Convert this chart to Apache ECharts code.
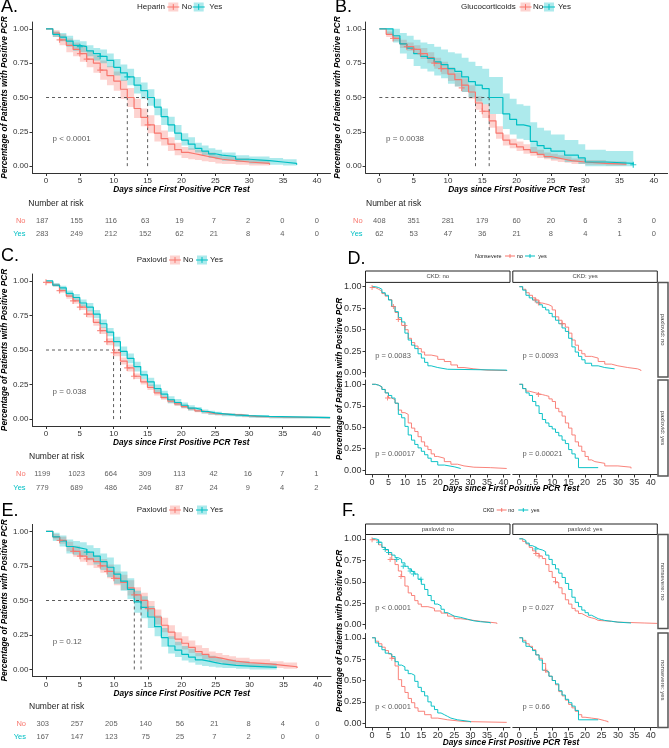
<!DOCTYPE html>
<html><head><meta charset="utf-8">
<script src="https://cdn.jsdelivr.net/npm/echarts@6/dist/echarts.min.js"></script>
<style>html,body{margin:0;padding:0;background:#fff}#c{width:669px;height:748px}</style>
</head><body><div id="c"></div>
<script>
// ---------------- DATA ----------------
const dayTicks = [0,5,10,15,20,25,30,35,40];
const survTicks = [0,0.25,0.5,0.75,1];
const riskDays = [0,5,10,15,20,25,30,35,40];
const riskRows = ['No','Yes'];

// Panel A (Heparin)
const tA_no  = [0,1,2,3,4,5,6,7,8,9,10,11,12,13,14,15,16,17,18,19,20,21,22,23,24,25,26,28,30,33];
const sA_no  = [1,0.97,0.92,0.88,0.85,0.82,0.78,0.75,0.70,0.66,0.62,0.56,0.50,0.42,0.355,0.30,0.24,0.20,0.16,0.12,0.10,0.09,0.08,0.07,0.06,0.05,0.04,0.03,0.02,0.01];
const loA_no = [1,0.94,0.88,0.83,0.80,0.76,0.72,0.68,0.63,0.59,0.55,0.49,0.43,0.35,0.29,0.24,0.18,0.15,0.11,0.08,0.06,0.05,0.045,0.035,0.03,0.02,0.015,0.01,0.005,0];
const hiA_no = [1,0.99,0.96,0.93,0.90,0.88,0.84,0.81,0.77,0.73,0.69,0.63,0.57,0.49,0.42,0.37,0.30,0.26,0.21,0.17,0.14,0.13,0.12,0.11,0.10,0.08,0.07,0.06,0.045,0.03];
const tA_yes  = [0,1,2,3,4,5,6,7,8,9,10,11,12,13,14,15,16,17,18,19,20,21,22,23,24,25,26,28,30,33,35,37];
const sA_yes  = [1,0.96,0.94,0.91,0.88,0.87,0.84,0.82,0.80,0.77,0.72,0.68,0.65,0.59,0.55,0.50,0.43,0.36,0.30,0.24,0.19,0.16,0.13,0.11,0.09,0.08,0.07,0.05,0.04,0.03,0.02,0.01];
const loA_yes = [1,0.94,0.91,0.87,0.84,0.83,0.80,0.77,0.75,0.72,0.66,0.62,0.59,0.53,0.49,0.44,0.37,0.30,0.25,0.19,0.15,0.12,0.10,0.08,0.06,0.05,0.04,0.03,0.02,0.01,0.005,0];
const hiA_yes = [1,0.98,0.97,0.95,0.92,0.91,0.88,0.86,0.85,0.82,0.78,0.74,0.71,0.65,0.61,0.56,0.49,0.42,0.36,0.30,0.24,0.21,0.17,0.15,0.13,0.12,0.10,0.08,0.07,0.06,0.05,0.04];
const censA_no  = [[2,0.92],[5,0.82],[6,0.78],[8,0.70],[15,0.30]];
const censA_yes = [[5,0.87],[8,0.80],[12,0.65]];
const medA = [12,15];
const riskA_no  = [187,155,116,63,19,7,2,0,0];
const riskA_yes = [283,249,212,152,62,21,8,4,0];

// Panel B (Glucocorticoids)
const tB_no  = [0,1,2,3,4,5,6,7,8,9,10,11,12,13,14,15,16,17,18,19,20,21,22,23,24,25,26,27,28,30,33,36];
const sB_no  = [1,0.96,0.93,0.89,0.87,0.85,0.82,0.79,0.75,0.71,0.67,0.63,0.59,0.54,0.46,0.40,0.33,0.24,0.19,0.16,0.14,0.12,0.10,0.085,0.07,0.06,0.05,0.04,0.03,0.02,0.015,0.01];
const loB_no = [1,0.94,0.91,0.86,0.84,0.82,0.78,0.75,0.71,0.67,0.62,0.58,0.54,0.49,0.41,0.35,0.28,0.20,0.15,0.13,0.11,0.09,0.075,0.06,0.05,0.04,0.03,0.025,0.015,0.01,0.005,0];
const hiB_no = [1,0.98,0.95,0.92,0.90,0.88,0.86,0.83,0.79,0.76,0.72,0.68,0.64,0.59,0.51,0.45,0.38,0.29,0.23,0.20,0.18,0.16,0.14,0.12,0.10,0.09,0.08,0.07,0.055,0.045,0.035,0.03];
const tB_yes  = [0,1,2,3,4,5,6,7,8,9,10,11,12,13,14,15,16,18,19,20,21,22,23,24,25,27,29,30,33,37];
const sB_yes  = [1,1,0.95,0.89,0.86,0.82,0.80,0.785,0.76,0.74,0.71,0.69,0.65,0.615,0.59,0.565,0.50,0.38,0.34,0.30,0.29,0.18,0.15,0.13,0.11,0.08,0.06,0.03,0.02,0.01];
const loB_yes = [1,0.96,0.90,0.82,0.78,0.73,0.71,0.69,0.66,0.64,0.60,0.58,0.54,0.50,0.47,0.45,0.38,0.27,0.23,0.20,0.19,0.10,0.08,0.06,0.05,0.03,0.015,0,0,0];
const hiB_yes = [1,1,1,0.97,0.95,0.92,0.90,0.89,0.87,0.85,0.83,0.82,0.79,0.76,0.73,0.71,0.65,0.53,0.49,0.45,0.44,0.32,0.28,0.26,0.23,0.19,0.16,0.12,0.11,0.11];
const censB_no  = [[2,0.93],[4,0.87],[5,0.85],[6,0.82],[8,0.75],[9,0.71],[12,0.57],[15,0.40]];
const censB_yes = [[37,0.01]];
const medB = [14,16];
const riskB_no  = [408,351,281,179,60,20,6,3,0];
const riskB_yes = [62,53,47,36,21,8,4,1,0];

// Panel C (Paxlovid)
const tC_no  = [0,1,2,3,4,5,6,7,8,9,10,11,12,13,14,15,16,17,18,19,20,21,22,23,24,25,27,29,31,35,42];
const sC_no  = [0.99,0.97,0.93,0.89,0.855,0.81,0.76,0.70,0.64,0.56,0.48,0.42,0.37,0.31,0.27,0.23,0.19,0.155,0.13,0.11,0.09,0.075,0.06,0.05,0.04,0.035,0.03,0.02,0.015,0.01,0.005];
const loC_no = [0.98,0.96,0.915,0.87,0.835,0.79,0.735,0.675,0.615,0.535,0.455,0.395,0.345,0.29,0.25,0.21,0.17,0.14,0.115,0.095,0.077,0.063,0.05,0.04,0.032,0.027,0.022,0.014,0.01,0.006,0.002];
const hiC_no = [1,0.98,0.945,0.91,0.875,0.83,0.785,0.725,0.665,0.585,0.505,0.445,0.395,0.33,0.29,0.25,0.21,0.17,0.145,0.125,0.103,0.087,0.07,0.06,0.048,0.043,0.038,0.026,0.02,0.014,0.008];
const tC_yes  = [0,1,2,3,4,5,6,7,8,9,10,11,12,13,14,15,16,17,18,19,20,21,22,23,24,25,26,28,30,33,42];
const sC_yes  = [1,0.97,0.95,0.91,0.88,0.84,0.81,0.76,0.69,0.63,0.56,0.49,0.44,0.38,0.32,0.27,0.22,0.18,0.14,0.12,0.10,0.08,0.07,0.055,0.045,0.04,0.03,0.025,0.02,0.01,0.005];
const loC_yes = [1,0.96,0.935,0.89,0.855,0.815,0.78,0.73,0.66,0.60,0.525,0.455,0.405,0.345,0.29,0.24,0.19,0.155,0.115,0.10,0.08,0.062,0.053,0.04,0.032,0.027,0.02,0.015,0.01,0.004,0.001];
const hiC_yes = [1,0.985,0.965,0.93,0.905,0.865,0.84,0.79,0.72,0.66,0.595,0.525,0.475,0.415,0.35,0.30,0.25,0.205,0.165,0.145,0.12,0.10,0.088,0.07,0.06,0.054,0.042,0.036,0.03,0.018,0.01];
const censC_no  = [[0,0.99],[2,0.93],[4,0.855],[5,0.81],[6,0.76],[8,0.64],[9,0.56],[10,0.48],[12,0.37],[13,0.31]];
const censC_yes = [];
const medC = [10,11];
const riskC_no  = [1199,1023,664,309,113,42,16,7,1];
const riskC_yes = [779,689,486,246,87,24,9,4,2];

// Panel E (Paxlovid)
const tE_no  = [0,1,2,3,4,5,6,7,8,9,10,11,12,13,14,15,16,17,18,19,20,21,22,23,24,25,26,27,28,30,33,35,37];
const sE_no  = [1,0.96,0.935,0.89,0.855,0.82,0.80,0.78,0.75,0.71,0.66,0.63,0.59,0.54,0.50,0.44,0.38,0.32,0.27,0.22,0.19,0.16,0.13,0.11,0.09,0.08,0.07,0.06,0.05,0.04,0.03,0.02,0.01];
const loE_no = [1,0.94,0.91,0.855,0.815,0.78,0.755,0.735,0.70,0.66,0.61,0.575,0.535,0.485,0.445,0.385,0.325,0.27,0.22,0.175,0.145,0.12,0.095,0.075,0.06,0.05,0.04,0.032,0.025,0.017,0.01,0.005,0];
const hiE_no = [1,0.98,0.96,0.925,0.895,0.865,0.845,0.825,0.80,0.76,0.71,0.685,0.645,0.595,0.555,0.495,0.435,0.375,0.32,0.27,0.24,0.21,0.175,0.155,0.13,0.12,0.105,0.095,0.085,0.075,0.06,0.05,0.04];
const tE_yes  = [0,1,2,3,4,5,6,7,8,9,10,11,12,13,14,15,16,17,18,19,20,21,22,23,24,25,26,28,30,34];
const sE_yes  = [1,0.96,0.93,0.89,0.88,0.87,0.85,0.82,0.78,0.74,0.69,0.64,0.58,0.49,0.45,0.38,0.31,0.23,0.17,0.14,0.11,0.09,0.07,0.06,0.05,0.04,0.03,0.025,0.015,0.01];
const loE_yes = [1,0.93,0.89,0.84,0.83,0.82,0.79,0.76,0.72,0.67,0.62,0.57,0.51,0.41,0.37,0.30,0.24,0.165,0.115,0.09,0.065,0.05,0.035,0.025,0.02,0.015,0.01,0.005,0,0];
const hiE_yes = [1,0.99,0.97,0.94,0.93,0.92,0.90,0.88,0.84,0.81,0.76,0.71,0.66,0.57,0.53,0.46,0.39,0.30,0.24,0.20,0.17,0.15,0.12,0.11,0.10,0.085,0.07,0.06,0.045,0.035];
const censE_no  = [[2,0.935],[4,0.855],[5,0.82],[6,0.80],[8,0.75],[9,0.71],[10,0.66],[13,0.54],[15,0.44]];
const censE_yes = [[6,0.85]];
const medE = [13,14];
const riskE_no  = [303,257,205,140,56,21,8,4,0];
const riskE_yes = [167,147,123,75,25,7,2,0,0];

// Panel D facets (Nonsevere no / yes), [CKD col][paxlovid row]
const tD00_no = [0,1,2,3,4,5,6,7,8,9,10,11,12,13,14,15,16,18,20,22,24,26,28,31,35,41];
const sD00_no = [0.99,0.97,0.95,0.92,0.89,0.85,0.77,0.70,0.62,0.55,0.50,0.40,0.35,0.31,0.28,0.24,0.205,0.19,0.155,0.13,0.09,0.06,0.045,0.03,0.025,0.02];
const tD00_yes = [0,1,2,3,4,5,6,7,8,9,10,11,12,13,14,15,16,17,18,20,23,41];
const sD00_yes = [1,0.99,0.97,0.93,0.90,0.845,0.77,0.71,0.64,0.59,0.46,0.38,0.32,0.28,0.22,0.17,0.12,0.08,0.06,0.04,0.03,0.02];
const tD01_no = [0,1,2,3,4,5,6,7,8,9,10,11,12,13,14,15,16,17,18,19,20,22,24,26,28,30,33,36,37];
const sD01_no = [1,0.97,0.93,0.90,0.87,0.845,0.81,0.80,0.79,0.77,0.73,0.65,0.61,0.57,0.53,0.46,0.38,0.32,0.26,0.22,0.19,0.17,0.13,0.10,0.08,0.06,0.045,0.03,0.02];
const tD01_yes = [0,1,2,3,4,5,6,7,8,9,10,11,12,13,14,15,16,17,18,19,20,22,24,26,29];
const sD01_yes = [1,0.96,0.90,0.87,0.845,0.82,0.79,0.76,0.73,0.69,0.65,0.61,0.57,0.52,0.48,0.40,0.30,0.24,0.19,0.15,0.11,0.08,0.06,0.045,0.04];
const tD10_no = [0,1,2,3,4,5,6,7,8,9,10,11,12,13,14,15,16,17,18,19,20,22,24,26,28,31,36,41];
const sD10_no = [1,0.99,0.97,0.94,0.90,0.84,0.82,0.78,0.70,0.67,0.65,0.55,0.49,0.45,0.39,0.33,0.28,0.24,0.19,0.16,0.14,0.10,0.07,0.05,0.035,0.03,0.02,0.015];
const tD10_yes = [0,1,2,3,4,5,6,7,8,9,10,11,12,13,14,15,16,17,18,20,22,25,27];
const sD10_yes = [1,0.99,0.97,0.94,0.90,0.87,0.84,0.78,0.65,0.61,0.51,0.41,0.35,0.30,0.26,0.22,0.18,0.14,0.10,0.06,0.04,0.02,0.02];
const tD11_no = [0,1,2,3,5,6,7,8,9,10,11,12,13,14,15,16,17,18,19,20,21,22,23,26,30,34];
const sD11_no = [1,0.95,0.92,0.90,0.89,0.88,0.87,0.86,0.83,0.80,0.72,0.68,0.63,0.55,0.49,0.41,0.33,0.28,0.22,0.16,0.12,0.10,0.08,0.05,0.035,0.02];
const tD11_yes = [0,1,2,3,4,5,6,7,8,9,10,11,12,13,14,15,16,17,18,24];
const sD11_yes = [1,0.95,0.90,0.87,0.80,0.75,0.66,0.59,0.55,0.51,0.48,0.44,0.40,0.35,0.31,0.24,0.19,0.14,0.03,0.03];
const censD = [[[0,0.99],[6.5,0.77],[8,0.62],[10,0.55]], [[4.8,0.845],[5.8,0.81],[13,0.57]], [[4.7,0.84]], [[5.8,0.88]]];
const pD = ['p = 0.0083','p = 0.0093','p = 0.00017','p = 0.00021'];

// Panel F facets (CKD no / yes), [paxlovid col][nonsevere row]
const tF00_no = [0,1,2,3,4,5,6,7,8,9,10,11,12,13,14,15,17,19,21,23,25,27,29,33,38];
const sF00_no = [0.99,0.97,0.93,0.90,0.87,0.82,0.76,0.70,0.625,0.56,0.45,0.37,0.34,0.28,0.24,0.21,0.19,0.16,0.135,0.10,0.07,0.06,0.04,0.02,0.01];
const tF00_yes = [0,1,2,3,4,5,6,7,8,9,10,11,12,13,14,15,16,17,18,19,20,21,22,23,24,25,27,29,31,33,36];
const sF00_yes = [1,0.99,0.96,0.90,0.875,0.84,0.81,0.78,0.76,0.72,0.68,0.65,0.62,0.59,0.53,0.47,0.41,0.34,0.28,0.24,0.22,0.18,0.14,0.12,0.10,0.085,0.065,0.045,0.035,0.025,0.015];
const tF01_no = [0,1,2,3,4,5,6,7,8,9,10,11,12,13,14,15,16,17,18,19,20,21,22,23,24,26,28,30,34,38,42];
const sF01_no = [1,0.97,0.94,0.90,0.86,0.83,0.80,0.77,0.70,0.62,0.55,0.49,0.43,0.36,0.29,0.24,0.19,0.16,0.13,0.11,0.09,0.08,0.07,0.05,0.045,0.04,0.03,0.025,0.02,0.015,0.01];
const tF01_yes = [0,1,2,3,4,5,6,7,8,9,10,11,12,13,14,15,16,17,18,19,20,21,22,23,24,25,26,28,30,34];
const sF01_yes = [1,0.98,0.95,0.92,0.90,0.88,0.87,0.85,0.81,0.76,0.70,0.65,0.60,0.55,0.48,0.41,0.32,0.26,0.21,0.17,0.14,0.11,0.09,0.07,0.06,0.05,0.04,0.03,0.02,0.015];
const tF10_no = [0,1,2,3,4,5,6,7,8,9,10,11,12,13,14,16,18,20,23,28,41];
const sF10_no = [1,0.96,0.93,0.89,0.85,0.81,0.76,0.67,0.51,0.43,0.36,0.29,0.24,0.18,0.14,0.10,0.06,0.04,0.02,0.01,0.01];
const tF10_yes = [0,1,2,3,4,5,6,7,8,9,10,11,12,13,14,15,16,17,18,19,20,21,22,23,24,25,26,28,30];
const sF10_yes = [1,0.94,0.90,0.86,0.82,0.81,0.78,0.72,0.68,0.66,0.62,0.58,0.56,0.49,0.42,0.37,0.32,0.25,0.20,0.16,0.12,0.10,0.08,0.06,0.05,0.04,0.03,0.02,0.01];
const tF11_no = [0,1,2,3,4,5,6,7,8,9,10,11,12,13,14,15,16,17,18,19,20,22,24,26,27];
const sF11_no = [1,0.97,0.93,0.90,0.86,0.80,0.76,0.70,0.60,0.55,0.50,0.45,0.37,0.32,0.27,0.22,0.18,0.14,0.10,0.07,0.06,0.05,0.03,0.02,0.01];
const tF11_yes = [0,1,2,3,4,5,6,7,8,9,10,11,12,13,14,15,16,17,18,24];
const sF11_yes = [1,0.95,0.90,0.88,0.85,0.80,0.74,0.62,0.60,0.55,0.50,0.46,0.38,0.33,0.28,0.24,0.20,0.15,0.04,0.04];
const censF_no  = [[[0,0.99],[5.5,0.76],[8.8,0.56]], [[5,0.83],[6,0.80],[11,0.50]], [[6,0.76]], [[8,0.62]]];
const censF_yes = [[[2,0.96],[4,0.875],[5,0.84],[7.5,0.76],[9.5,0.68],[11.6,0.625],[12.6,0.59],[14.9,0.53]], [[5,0.88]], [], []];
const pF = ['p < 0.0001','p = 0.027','p < 0.0001','p = 0.66'];

// ---------------- BUILD ----------------
const FONT = "'Liberation Sans', Arial, Helvetica, sans-serif";
const RED = '#F8766D', TEAL = '#00BFC4';
const RED_FILL = 'rgba(248,118,109,0.32)', TEAL_FILL = 'rgba(0,191,196,0.32)';
const AX = '#333', TXT = '#333';
const XT = 'Days since First Positive PCR Test';
const YT = 'Percentage of Patients with Positive PCR';
const PLUS = 'path://M4,0H6V4H10V6H6V10H4V6H0V4H4Z';

const grid = [], xAxis = [], yAxis = [], series = [], graphic = [];
const zip = (t, s) => t.map((v, i) => [v, s[i]]);

function axisPair(rect, o) {
  const gi = grid.length;
  grid.push(Object.assign({}, rect));
  xAxis.push({
    type: 'value', gridIndex: gi, min: -2, max: 42,
    axisLine: { show: o.showX, onZero: false, lineStyle: { color: AX, width: 1 } },
    axisTick: { show: o.showX, customValues: dayTicks, length: 3, lineStyle: { color: AX, width: 1 } },
    axisLabel: { show: o.showX, customValues: dayTicks, color: TXT, fontSize: o.fs, margin: 4, fontFamily: FONT },
    splitLine: { show: false },
    name: o.xName || '', nameLocation: 'middle', nameGap: 12,
    nameTextStyle: { fontFamily: FONT, fontSize: 8.3, fontWeight: 'bold', fontStyle: 'italic', color: '#000' }
  });
  yAxis.push({
    type: 'value', gridIndex: gi, min: -0.05, max: 1.05,
    axisLine: { show: o.showY, onZero: false, lineStyle: { color: AX, width: 1 } },
    axisTick: { show: o.showY, customValues: survTicks, length: 3, lineStyle: { color: AX, width: 1 } },
    axisLabel: { show: o.showY, customValues: survTicks, formatter: v => v.toFixed(2), color: TXT, fontSize: o.fs, margin: 4, fontFamily: FONT },
    splitLine: { show: false },
    name: o.yName || '', nameLocation: 'middle', nameGap: 20,
    nameTextStyle: { fontFamily: FONT, fontSize: 8.3, fontWeight: 'bold', fontStyle: 'italic', color: '#000' }
  });
  return gi;
}

function band(gi, t, lo, hi, fill) {
  series.push({
    type: 'custom', xAxisIndex: gi, yAxisIndex: gi, clip: true, silent: true, z: 1,
    data: t.map((v, i) => [v, lo[i], hi[i]]), encode: { x: 0, y: [1, 2] },
    renderItem: (params, api) => {
      if (params.dataIndex !== 0) return null;
      const up = [], dn = [];
      for (let i = 0; i < t.length; i++) {
        const xn = i < t.length - 1 ? t[i + 1] : t[i];
        up.push(api.coord([t[i], hi[i]]), api.coord([xn, hi[i]]));
        dn.push(api.coord([t[i], lo[i]]), api.coord([xn, lo[i]]));
      }
      return { type: 'polygon', shape: { points: up.concat(dn.reverse()) }, style: { fill } };
    }
  });
}
function curve(gi, t, s, color, width, op) {
  series.push({ type: 'line', xAxisIndex: gi, yAxisIndex: gi, data: zip(t, s), step: 'end', symbol: 'none',
    lineStyle: { color, width, opacity: op }, itemStyle: { color }, silent: true, z: 3 });
}
function cens(gi, pts, color, size) {
  if (!pts.length) return;
  series.push({ type: 'scatter', xAxisIndex: gi, yAxisIndex: gi, data: pts, symbol: PLUS, symbolSize: size,
    itemStyle: { color }, silent: true, z: 4 });
}
function pText(gi, text, pos, fs) {
  series.push({ type: 'scatter', xAxisIndex: gi, yAxisIndex: gi, data: [pos], symbolSize: 1,
    itemStyle: { color: 'rgba(0,0,0,0)' }, silent: true, z: 5,
    label: { show: true, position: 'right', distance: 0, formatter: text, fontFamily: FONT, fontSize: fs, color: TXT } });
}

function addMain(rect, curves, meds, p) {
  const gi = axisPair(rect, { showX: true, showY: true, fs: 8, xName: XT, yName: YT });
  curves.forEach(c => band(gi, c.t, c.lo, c.hi, c.fill));
  const dash = { color: '#333', width: 0.8, type: [3, 3] };
  const mMax = Math.max.apply(null, meds);
  series.push({ type: 'line', xAxisIndex: gi, yAxisIndex: gi, data: [[0, 0.5], [mMax, 0.5]], symbol: 'none', lineStyle: dash, silent: true, z: 2 });
  meds.forEach(m => series.push({ type: 'line', xAxisIndex: gi, yAxisIndex: gi, data: [[m, 0], [m, 0.5]], symbol: 'none', lineStyle: dash, silent: true, z: 2 }));
  curves.forEach(c => { curve(gi, c.t, c.s, c.color, 1.2, 1); cens(gi, c.cens, c.color, 6); });
  pText(gi, p, [0.9, 0.2], 8);
}

function addRisk(rect, rNo, rYes) {
  const gi = grid.length;
  grid.push(Object.assign({}, rect));
  xAxis.push({ type: 'value', gridIndex: gi, min: -2, max: 42, show: false });
  yAxis.push({ type: 'category', gridIndex: gi, data: riskRows, inverse: true,
    axisLine: { show: false }, axisTick: { show: false }, splitLine: { show: false },
    axisLabel: { fontFamily: FONT, fontSize: 7.5, margin: 3, color: v => (v === 'No' ? RED : TEAL) } });
  const data = riskDays.map((d, i) => [d, 'No', rNo[i]]).concat(riskDays.map((d, i) => [d, 'Yes', rYes[i]]));
  series.push({ type: 'scatter', xAxisIndex: gi, yAxisIndex: gi, data, symbolSize: 1,
    itemStyle: { color: 'rgba(0,0,0,0)' }, silent: true,
    label: { show: true, position: 'inside', formatter: p => String(p.value[2]), fontFamily: FONT, fontSize: 7.5, color: '#333' } });
}

function addFacet(rect, showX, showY, tNo, sNo, tYes, sYes, cNo, cYes, p) {
  const gi = axisPair(rect, { showX, showY, fs: 9 });
  curve(gi, tNo, sNo, RED, 1, 0.9);
  curve(gi, tYes, sYes, TEAL, 1, 0.95);
  cens(gi, cNo, RED, 5);
  cens(gi, cYes, TEAL, 5);
  pText(gi, p, [0.8, 0.19], 7.5);
}

// main panels
addMain({ left: 28.5, top: 22, width: 302, height: 151 }, [
  { t: tA_no, s: sA_no, lo: loA_no, hi: hiA_no, color: RED, fill: RED_FILL, cens: censA_no },
  { t: tA_yes, s: sA_yes, lo: loA_yes, hi: hiA_yes, color: TEAL, fill: TEAL_FILL, cens: censA_yes }], medA, 'p < 0.0001');
addMain({ left: 365.6, top: 22, width: 302, height: 151 }, [
  { t: tB_no, s: sB_no, lo: loB_no, hi: hiB_no, color: RED, fill: RED_FILL, cens: censB_no },
  { t: tB_yes, s: sB_yes, lo: loB_yes, hi: hiB_yes, color: TEAL, fill: TEAL_FILL, cens: censB_yes }], medB, 'p = 0.0038');
addMain({ left: 28.6, top: 274, width: 301.5, height: 152 }, [
  { t: tC_no, s: sC_no, lo: loC_no, hi: hiC_no, color: RED, fill: RED_FILL, cens: censC_no },
  { t: tC_yes, s: sC_yes, lo: loC_yes, hi: hiC_yes, color: TEAL, fill: TEAL_FILL, cens: censC_yes }], medC, 'p = 0.038');
addMain({ left: 29, top: 524.4, width: 302, height: 152 }, [
  { t: tE_no, s: sE_no, lo: loE_no, hi: hiE_no, color: RED, fill: RED_FILL, cens: censE_no },
  { t: tE_yes, s: sE_yes, lo: loE_yes, hi: hiE_yes, color: TEAL, fill: TEAL_FILL, cens: censE_yes }], medE, 'p = 0.12');

addRisk({ left: 28.5, top: 214.5, width: 302, height: 26 }, riskA_no, riskA_yes);
addRisk({ left: 365.6, top: 214.5, width: 302, height: 26 }, riskB_no, riskB_yes);
addRisk({ left: 28.6, top: 467.2, width: 301.5, height: 27.4 }, riskC_no, riskC_yes);
addRisk({ left: 29, top: 717.5, width: 302, height: 26 }, riskE_no, riskE_yes);

// facets D
const colL = 365.5, colR = 512.8, fw = 144.5;
addFacet({ left: colL, top: 282.4, width: fw, height: 94.6 }, false, true, tD00_no, sD00_no, tD00_yes, sD00_yes, censD[0], [], pD[0]);
addFacet({ left: colR, top: 282.4, width: fw, height: 94.6 }, false, false, tD01_no, sD01_no, tD01_yes, sD01_yes, censD[1], [], pD[1]);
addFacet({ left: colL, top: 380, width: fw, height: 94.5 }, true, true, tD10_no, sD10_no, tD10_yes, sD10_yes, censD[2], [], pD[2]);
addFacet({ left: colR, top: 380, width: fw, height: 94.5 }, true, false, tD11_no, sD11_no, tD11_yes, sD11_yes, censD[3], [], pD[3]);
// facets F
addFacet({ left: colL, top: 534.5, width: fw, height: 94.5 }, false, true, tF00_no, sF00_no, tF00_yes, sF00_yes, censF_no[0], censF_yes[0], pF[0]);
addFacet({ left: colR, top: 534.5, width: fw, height: 94.5 }, false, false, tF01_no, sF01_no, tF01_yes, sF01_yes, censF_no[1], censF_yes[1], pF[1]);
addFacet({ left: colL, top: 633.5, width: fw, height: 94 }, true, true, tF10_no, sF10_no, tF10_yes, sF10_yes, censF_no[2], censF_yes[2], pF[2]);
addFacet({ left: colR, top: 633.5, width: fw, height: 94 }, true, false, tF11_no, sF11_no, tF11_yes, sF11_yes, censF_no[3], censF_yes[3], pF[3]);

// ---------------- GRAPHIC TEXT / LEGENDS / STRIPS ----------------
const T = (text, x, y, o = {}) => ({ type: 'text', x, y, rotation: o.rot || 0, silent: true, z: 100,
  style: { text, fontFamily: FONT, fontSize: o.size || 8, fontWeight: o.weight || 'normal', fontStyle: o.fstyle || 'normal',
    fill: o.color || '#222', align: o.align || 'left', verticalAlign: o.va || 'middle' } });
function key(cx, cy, color, fill, w, h) {
  const els = [];
  if (fill) els.push({ type: 'rect', shape: { x: cx - w / 2, y: cy - h / 2, width: w, height: h }, style: { fill }, silent: true, z: 100 });
  els.push({ type: 'line', shape: { x1: cx - w / 2 - 1, y1: cy, x2: cx + w / 2 + 1, y2: cy }, style: { stroke: color, lineWidth: 1 }, silent: true, z: 101 });
  els.push({ type: 'line', shape: { x1: cx, y1: cy - h * 0.32, x2: cx, y2: cy + h * 0.32 }, style: { stroke: color, lineWidth: 1 }, silent: true, z: 101 });
  return els;
}
function legend(title, tx, y, k1, l1, k2, l2, labels, fs, fill, kw, kh) {
  graphic.push(T(title, tx, y, { size: fs, color: '#222' }));
  key(k1, y, RED, fill ? RED_FILL : null, kw, kh).forEach(e => graphic.push(e));
  key(k2, y, TEAL, fill ? TEAL_FILL : null, kw, kh).forEach(e => graphic.push(e));
  graphic.push(T(labels[0], l1, y, { size: fs, color: '#222' }));
  graphic.push(T(labels[1], l2, y, { size: fs, color: '#222' }));
}
legend('Heparin', 137, 7, 173.3, 181.7, 198.7, 209.3, ['No', 'Yes'], 8, true, 10, 9);
legend('Glucocorticoids', 461, 7, 525.5, 533, 549, 558, ['No', 'Yes'], 8, true, 10, 9);
legend('Paxlovid', 136.7, 260, 175, 183, 202, 210, ['No', 'Yes'], 8, true, 10, 9);
legend('Paxlovid', 136.7, 510, 175, 183, 202, 210, ['No', 'Yes'], 8, true, 10, 9);
legend('Nonsevere', 475, 256, 510, 516.7, 530, 538.3, ['no', 'yes'], 5.5, false, 8, 6);
legend('CKD', 482.7, 510, 501.7, 508.3, 523.3, 531, ['no', 'yes'], 5.5, false, 8, 6);

// panel letters
[['A.', 1, 7], ['B.', 335, 7], ['C.', 1, 256.5], ['D.', 347.5, 259.5], ['E.', 1.5, 511], ['F.', 342, 511]]
  .forEach(l => graphic.push(T(l[0], l[1], l[2], { size: 18, color: '#000' })));

// number at risk titles
[[28.3, 204], [366, 204], [29, 457], [29, 707]].forEach(p => graphic.push(T('Number at risk', p[0], p[1], { size: 8.5, color: '#222' })));

// facet strips
function strip(x, y, w, h, text, vertical) {
  graphic.push({ type: 'rect', shape: { x, y, width: w, height: h }, style: { fill: '#fff', stroke: vertical ? '#555' : '#222', lineWidth: vertical ? 1.5 : 1 }, silent: true, z: 90 });
  graphic.push(T(text, x + w / 2, y + h / 2, { size: 6, color: '#444', align: 'center', rot: vertical ? -Math.PI / 2 : 0 }));
}
strip(colL, 271, fw, 11.4, 'CKD: no', false);
strip(colR, 271, fw, 11.4, 'CKD: yes', false);
strip(658, 282.4, 10, 94.6, 'paxlovid: no', true);
strip(658, 380, 10, 96, 'paxlovid: yes', true);
strip(colL, 524, fw, 10.5, 'paxlovid: no', false);
strip(colR, 524, fw, 10.5, 'paxlovid: yes', false);
strip(658, 534.5, 10, 94, 'nonsevere: no', true);
strip(658, 633, 10, 94.5, 'nonsevere: yes', true);

// facet axis titles
const tStyle = { size: 8.3, weight: 'bold', fstyle: 'italic', color: '#000', align: 'center' };
graphic.push(T(YT, 340, 379, Object.assign({ rot: Math.PI / 2 }, tStyle)));
graphic.push(T(YT, 340, 631, Object.assign({ rot: Math.PI / 2 }, tStyle)));
graphic.push(T(XT, 511, 489, tStyle));
graphic.push(T(XT, 511, 743, tStyle));

const chart = echarts.init(document.getElementById('c'), null, { renderer: 'canvas' });
chart.setOption({
  animation: false,
  backgroundColor: '#fff',
  textStyle: { fontFamily: FONT },
  grid, xAxis, yAxis, series, graphic
});
</script></body></html>
